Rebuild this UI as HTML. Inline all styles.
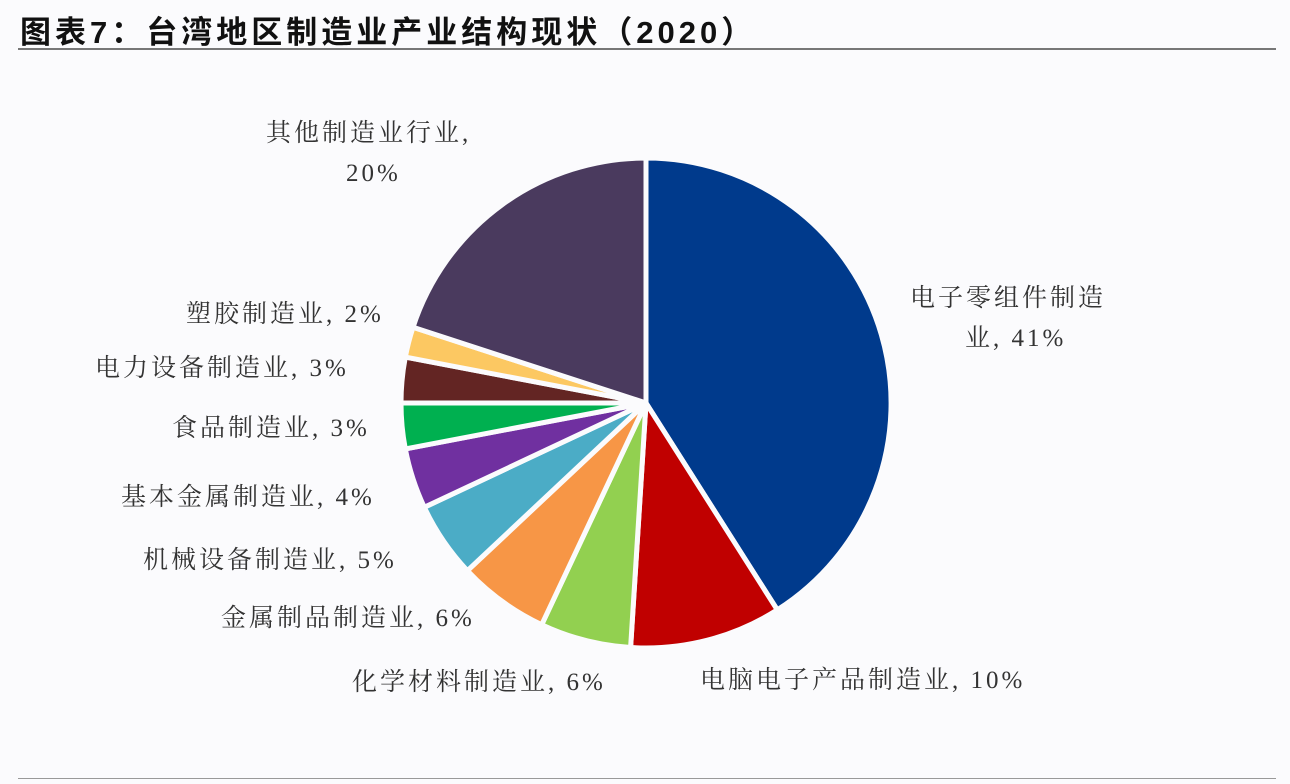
<!DOCTYPE html>
<html><head><meta charset="utf-8"><style>
html,body{margin:0;padding:0;background:#fbfbfd;}
body{width:1290px;height:784px;position:relative;overflow:hidden;}
.t{position:absolute;left:20px;top:7px;font:bold 31px "Liberation Sans","Noto Sans CJK SC",sans-serif;color:#111;white-space:nowrap;letter-spacing:4px;}
.l{position:absolute;font:25px "Liberation Serif","Noto Serif CJK SC",serif;color:#333;white-space:nowrap;line-height:40px;letter-spacing:3px;}
</style></head><body>
<div class="t">图表7：台湾地区制造业产业结构现状（2020）</div>
<div style="position:absolute;left:18px;top:48px;width:1258px;height:2px;background:#777"></div>
<div style="position:absolute;left:18px;top:778px;width:1258px;height:1px;background:#999"></div>
<svg id="s" width="1290" height="784" style="position:absolute;left:0;top:0"></svg>
<div class="l" style="left:266px;top:114px">其他制造业行业,<br><span style="margin-left:80px">20%</span></div>
<div class="l" style="left:910px;top:279px">电子零组件制造<br><span style="margin-left:55px">业, 41%</span></div>
<div class="l" style="left:186px;top:295px">塑胶制造业, 2%</div>
<div class="l" style="left:95px;top:349px">电力设备制造业, 3%</div>
<div class="l" style="left:172px;top:409px">食品制造业, 3%</div>
<div class="l" style="left:121px;top:478px">基本金属制造业, 4%</div>
<div class="l" style="left:143px;top:541px">机械设备制造业, 5%</div>
<div class="l" style="left:221px;top:599px">金属制品制造业, 6%</div>
<div class="l" style="left:352px;top:663px">化学材料制造业, 6%</div>
<div class="l" style="left:700px;top:661px">电脑电子产品制造业, 10%</div>
<script>
var d=[[41,'#003a8c'],[10,'#c00000'],[6,'#92d050'],[6,'#f79646'],[5,'#4bacc6'],[4,'#7030a0'],[3,'#00b050'],[3,'#632523'],[2,'#fcc862'],[20,'#4a3a5e']];
var cx=646,cy=403,r=245,a=0,h='';
function p(t){return [cx+r*Math.sin(t),cy-r*Math.cos(t)];}
d.forEach(function(e){var a0=a,a1=a+e[0]/100*2*Math.PI;a=a1;var s=p(a0),q=p(a1);
h+='<path d="M'+cx+','+cy+'L'+s[0].toFixed(1)+','+s[1].toFixed(1)+'A'+r+','+r+' 0 '+((a1-a0)>Math.PI?1:0)+' 1 '+q[0].toFixed(1)+','+q[1].toFixed(1)+'Z" fill="'+e[1]+'" stroke="#fbfbfd" stroke-width="5" stroke-linejoin="round"/>';});
document.getElementById('s').innerHTML=h;
</script>
</body></html>
